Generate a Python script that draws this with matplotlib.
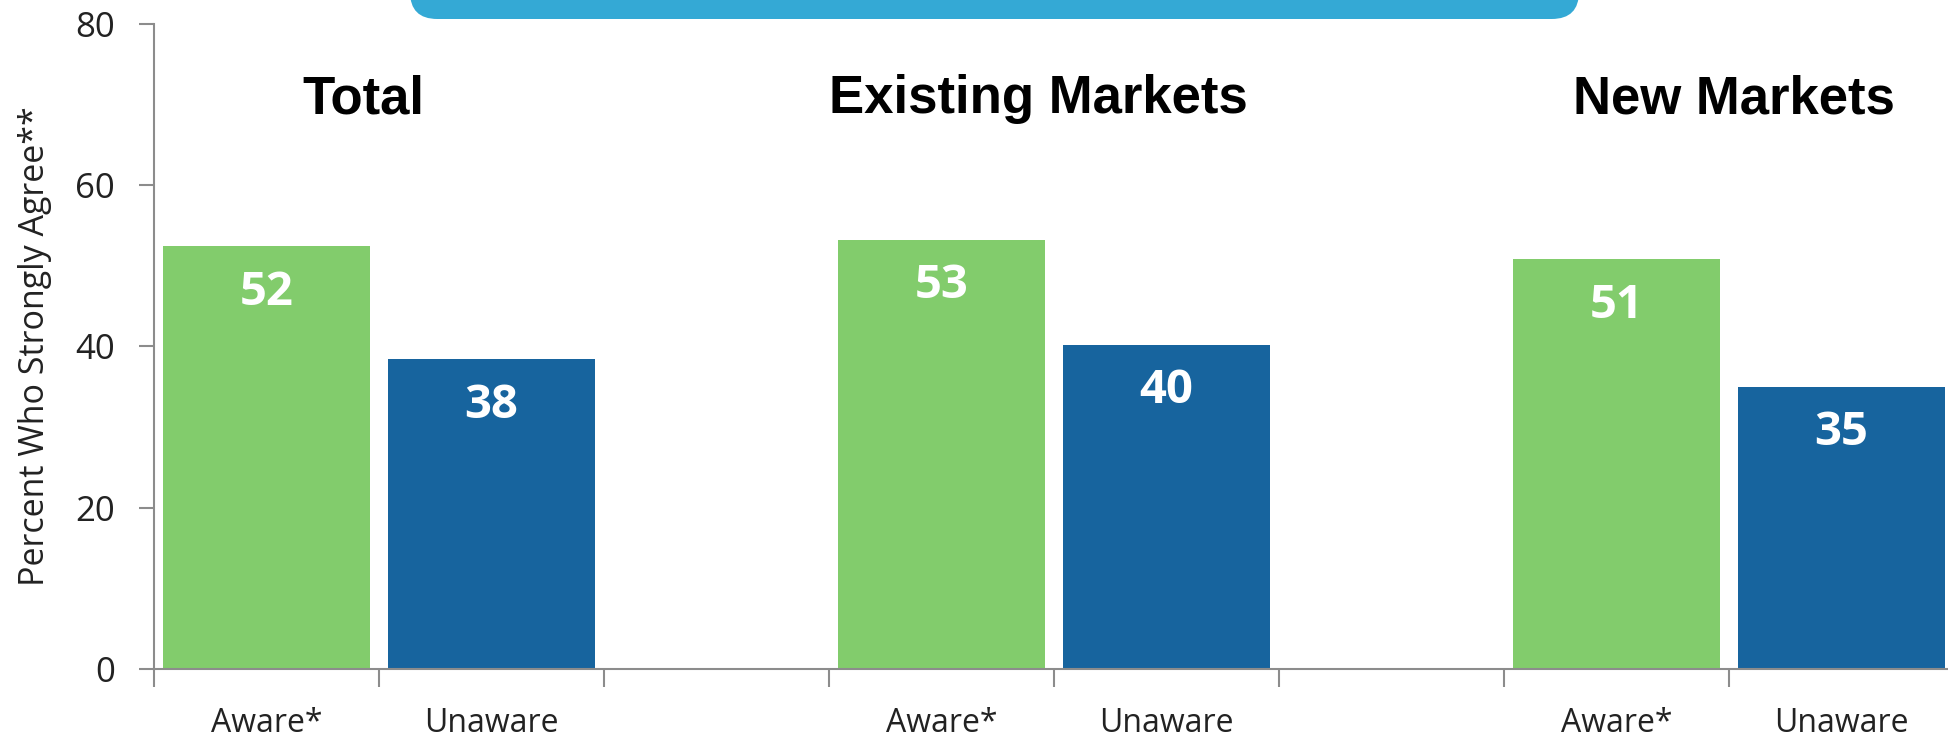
import matplotlib
matplotlib.use("Agg")
import matplotlib.pyplot as plt
from matplotlib.patches import FancyBboxPatch

# ---- data ----
groups = ["Total", "Existing Markets", "New Markets"]
categories = ["Aware*", "Unaware", "", "Aware*", "Unaware", "", "Aware*", "Unaware"]
aware_values = [52.4, 53.2, 50.8]
unaware_values = [38.4, 40.2, 35.0]
aware_labels = ["52", "53", "51"]
unaware_labels = ["38", "40", "35"]
yticks = [0, 20, 40, 60, 80]
ylabel = "Percent Who Strongly Agree**"

GREEN = "#82CC6C"
BLUE = "#17649E"
BANNER = "#34A9D5"
GRAY = "#8C8C8C"

W, H = 1949, 741
fig = plt.figure(figsize=(W / 100, H / 100), dpi=100)

ax = fig.add_axes([154 / W, 72 / H, 1800 / W, 645.3 / H])

aware_x = [0, 3, 6]
unaware_x = [1, 4, 7]
bw = 0.92
ax.bar(aware_x, aware_values, width=bw, color=GREEN, edgecolor="none", zorder=2)
ax.bar(unaware_x, unaware_values, width=bw, color=BLUE, edgecolor="none", zorder=2)

for x, v, t in zip(aware_x, aware_values, aware_labels):
    ax.text(x, v - 5.7, t, ha="center", va="center", color="white",
            fontsize=34, fontweight="bold", family="Open Sans", zorder=3)
for x, v, t in zip(unaware_x, unaware_values, unaware_labels):
    ax.text(x, v - 5.7, t, ha="center", va="center", color="white",
            fontsize=34, fontweight="bold", family="Open Sans", zorder=3)

# group titles
title_x = [0.43, 3.43, 6.52]
for x, g in zip(title_x, groups):
    ax.text(x, 68.9, g, ha="center", va="baseline", fontsize=38,
            fontweight="bold", family="Liberation Sans", color="black")

ax.set_xlim(-0.5, 7.5)
ax.set_ylim(0, 80)

# ticks
ax.set_xticks([i - 0.5 for i in range(9)])
ax.set_xticklabels([])
ax.set_xticks(list(range(8)), minor=True)
ax.set_xticklabels(categories, minor=True, fontsize=23, family="Open Sans", color="#222222")
ax.tick_params(axis="x", which="major", length=13, width=1.5, color=GRAY, direction="out")
ax.tick_params(axis="x", which="minor", length=0, pad=27)

ax.set_yticks(yticks)
ax.set_yticklabels([str(t) for t in yticks], fontsize=25, family="Open Sans", color="#222222")
ax.tick_params(axis="y", length=11, width=1.5, color=GRAY, direction="out", pad=17)

ax.set_ylabel(ylabel, fontsize=24.5, family="Open Sans", color="#222222", labelpad=17)

for s in ["top", "right"]:
    ax.spines[s].set_visible(False)
for s in ["left", "bottom"]:
    ax.spines[s].set_color(GRAY)
    ax.spines[s].set_linewidth(1.5)

# banner (cut off at top)
banner = FancyBboxPatch((410 / W, (H - 19) / H), (1579 - 410) / W, 60 / H,
                        boxstyle="round,pad=0,rounding_size=0.014",
                        transform=fig.transFigure, facecolor=BANNER,
                        edgecolor="none", mutation_aspect=W / H)
fig.patches.append(banner)

fig.savefig("out.png", dpi=100)
